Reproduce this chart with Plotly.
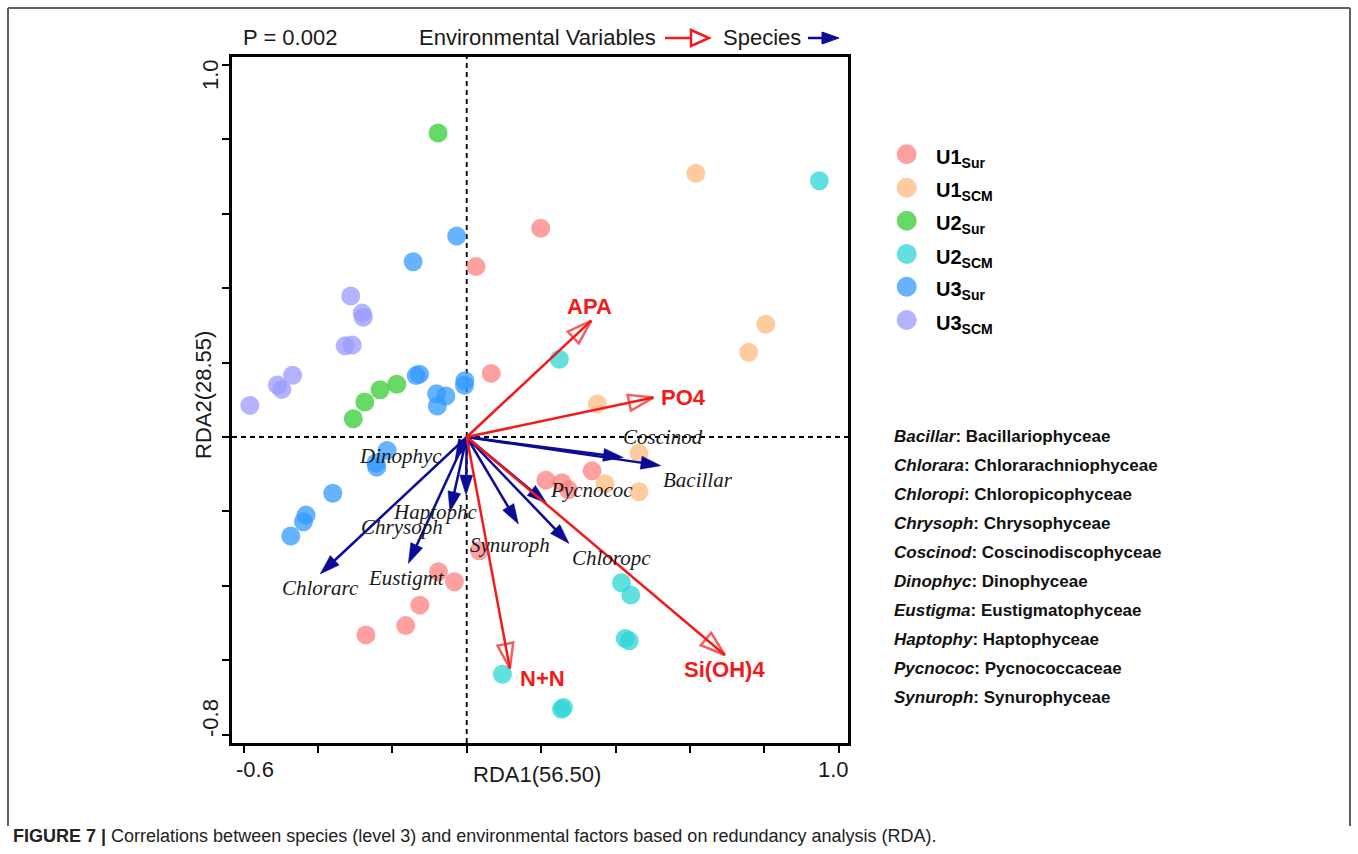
import plotly.graph_objects as go

# ---------------- data ----------------
group_names = ["U1_Sur", "U1_SCM", "U2_Sur", "U2_SCM", "U3_Sur", "U3_SCM"]
legend_main = ["U1", "U1", "U2", "U2", "U3", "U3"]
legend_sub = ["Sur", "SCM", "Sur", "SCM", "Sur", "SCM"]
group_colors = ["#FF8080", "#FFBB80", "#33CC33", "#2ED6D6", "#3399FF", "#9999FF"]

u1_sur_x = [0.199, 0.025, 0.066, 0.213, 0.256, 0.273, 0.337, 0.034, -0.076, -0.033, -0.126, -0.164, -0.271]
u1_sur_y = [0.561, 0.458, 0.171, -0.116, -0.123, -0.142, -0.091, -0.306, -0.362, -0.389, -0.452, -0.507, -0.532]
u1_scm_x = [0.616, 0.804, 0.758, 0.351, 0.463, 0.372, 0.463]
u1_scm_y = [0.709, 0.303, 0.228, 0.089, -0.044, -0.126, -0.147]
u2_sur_x = [-0.077, -0.188, -0.233, -0.274, -0.305]
u2_sur_y = [0.817, 0.142, 0.127, 0.094, 0.049]
u2_scm_x = [0.948, 0.249, 0.416, 0.441, 0.426, 0.437, 0.096, 0.255, 0.260]
u2_scm_y = [0.689, 0.209, -0.392, -0.425, -0.542, -0.548, -0.638, -0.732, -0.727]
u3_sur_x = [-0.027, -0.144, -0.136, -0.127, -0.005, -0.006, -0.081, -0.056, -0.079,
            -0.214, -0.244, -0.242, -0.360, -0.432, -0.439, -0.473]
u3_sur_y = [0.540, 0.471, 0.165, 0.169, 0.151, 0.139, 0.116, 0.110, 0.083,
            -0.036, -0.070, -0.081, -0.151, -0.210, -0.228, -0.266]
u3_scm_x = [-0.312, -0.281, -0.278, -0.327, -0.308, -0.468, -0.509, -0.497, -0.583]
u3_scm_y = [0.379, 0.333, 0.322, 0.245, 0.247, 0.166, 0.140, 0.128, 0.085]

group_x = [u1_sur_x, u1_scm_x, u2_sur_x, u2_scm_x, u3_sur_x, u3_scm_x]
group_y = [u1_sur_y, u1_scm_y, u2_sur_y, u2_scm_y, u3_sur_y, u3_scm_y]

env_names = ["APA", "PO4", "N+N", "Si(OH)4"]
env_x = [0.335, 0.502, 0.116, 0.694]
env_y = [0.313, 0.106, -0.622, -0.586]
env_label_x = [0.329, 0.517, 0.138, 0.692]
env_label_y = [0.352, 0.105, -0.648, -0.626]
env_label_anchor = ["center", "left", "left", "center"]

sp_names = ["Bacillar", "Coscinod", "Pycnococ", "Chloropc", "Synuroph",
            "Haptophc", "Chrysoph", "Eustigmt", "Chlorarc", "Dinophyc"]
sp_x = [0.522, 0.421, 0.215, 0.275, 0.139, -0.002, -0.045, -0.157, -0.394, -0.031]
sp_y = [-0.077, -0.055, -0.178, -0.286, -0.234, -0.156, -0.201, -0.340, -0.368, -0.060]
sp_label_x = [0.622, 0.528, 0.336, 0.390, 0.116, -0.085, -0.175, -0.161, -0.394, -0.179]
sp_label_y = [-0.116, 0.0, -0.142, -0.324, -0.290, -0.201, -0.243, -0.380, -0.407, -0.051]

abbr_names = ["Bacillar", "Chlorara", "Chloropi", "Chrysoph", "Coscinod",
              "Dinophyc", "Eustigma", "Haptophy", "Pycnococ", "Synuroph"]
full_names = ["Bacillariophyceae", "Chlorarachniophyceae", "Chloropicophyceae",
              "Chrysophyceae", "Coscinodiscophyceae", "Dinophyceae",
              "Eustigmatophyceae", "Haptophyceae", "Pycnococcaceae", "Synurophyceae"]

x_ticks = [-0.6, -0.4, -0.2, 0.0, 0.2, 0.4, 0.6, 0.8, 1.0]
y_ticks = [-0.8, -0.6, -0.4, -0.2, 0.0, 0.2, 0.4, 0.6, 0.8, 1.0]
x_range = [-0.631, 1.025]
y_range = [-0.8226, 1.0215]

p_text = "P = 0.002"
x_title = "RDA1(56.50)"
y_title = "RDA2(28.55)"
caption = "<b>FIGURE 7 |</b> Correlations between species (level 3) and environmental factors based on redundancy analysis (RDA)."

# ---------------- layout helpers ----------------
W_FIG, H_FIG = 1358, 854
L, R, T, B = 232, 848, 57, 743
PW, PH = R - L, B - T


def pxx(p):
    return (p - L) / PW


def pxy(p):
    return (B - p) / PH


RED = "#F21A1A"
NAVY = "#0B0B96"
TXT = "#1a1a1a"

fig = go.Figure()

# points
for name, xs, ys, col in zip(group_names, group_x, group_y, group_colors):
    fig.add_trace(go.Scatter(
        x=xs, y=ys, mode="markers", name=name, showlegend=False,
        marker=dict(size=19, color=col, opacity=0.75, line=dict(width=0)),
    ))

# species arrows
for nm, x, y in zip(sp_names, sp_x, sp_y):
    fig.add_trace(go.Scatter(
        x=[0, x], y=[0, y], mode="lines+markers", showlegend=False,
        line=dict(color=NAVY, width=2.5),
        marker=dict(symbol="arrow", size=[0, 21], angleref="previous",
                    color=NAVY, opacity=1, line=dict(width=0.5, color=NAVY)),
    ))

# environmental arrows
for nm, x, y in zip(env_names, env_x, env_y):
    fig.add_trace(go.Scatter(
        x=[0, x], y=[0, y], mode="lines+markers", showlegend=False,
        line=dict(color=RED, width=2.5),
        marker=dict(symbol="arrow-open", size=[0, 26], angleref="previous",
                    color=RED, line=dict(width=2.5, color=RED)),
    ))

ann = []
# species labels
for nm, x, y in zip(sp_names, sp_label_x, sp_label_y):
    ann.append(dict(x=x, y=y, xref="x", yref="y", text=nm, showarrow=False,
                    xanchor="center", yanchor="middle",
                    font=dict(family="Liberation Serif, Times New Roman, serif",
                              size=21, color=TXT, style="italic")))
# env labels
for nm, x, y, a in zip(env_names, env_label_x, env_label_y, env_label_anchor):
    ann.append(dict(x=x, y=y, xref="x", yref="y", text="<b>" + nm + "</b>",
                    showarrow=False, xanchor=a, yanchor="middle",
                    font=dict(family="Liberation Sans, Arial, sans-serif", size=22, color=RED)))

SANS = "Liberation Sans, Arial, sans-serif"
# tick labels
ann.append(dict(x=pxx(255), y=pxy(769), xref="paper", yref="paper", text="-0.6",
                showarrow=False, xanchor="center", yanchor="middle", font=dict(family=SANS, size=22, color=TXT)))
ann.append(dict(x=pxx(833), y=pxy(769), xref="paper", yref="paper", text="1.0",
                showarrow=False, xanchor="center", yanchor="middle", font=dict(family=SANS, size=22, color=TXT)))
ann.append(dict(x=pxx(210), y=pxy(75), xref="paper", yref="paper", text="1.0", textangle=-90,
                showarrow=False, xanchor="center", yanchor="middle", font=dict(family=SANS, size=22, color=TXT)))
ann.append(dict(x=pxx(210), y=pxy(718), xref="paper", yref="paper", text="-0.8", textangle=-90,
                showarrow=False, xanchor="center", yanchor="middle", font=dict(family=SANS, size=22, color=TXT)))
# axis titles
ann.append(dict(x=pxx(537), y=pxy(774), xref="paper", yref="paper", text=x_title,
                showarrow=False, xanchor="center", yanchor="middle", font=dict(family=SANS, size=22, color=TXT)))
ann.append(dict(x=pxx(203), y=pxy(395), xref="paper", yref="paper", text=y_title, textangle=-90,
                showarrow=False, xanchor="center", yanchor="middle", font=dict(family=SANS, size=22, color=TXT)))
# top texts
ann.append(dict(x=pxx(241), y=pxy(38), xref="paper", yref="paper", text=p_text,
                showarrow=False, xanchor="left", yanchor="middle", font=dict(family=SANS, size=22, color=TXT)))
ann.append(dict(x=pxx(658), y=pxy(38), xref="paper", yref="paper", text="Environmental Variables",
                showarrow=False, xanchor="right", yanchor="middle", font=dict(family=SANS, size=22, color=TXT)))
ann.append(dict(x=pxx(721), y=pxy(38), xref="paper", yref="paper", text="Species",
                showarrow=False, xanchor="left", yanchor="middle", font=dict(family=SANS, size=22, color=TXT)))

# group legend
leg_y = [154.3, 187.7, 220.7, 254.0, 286.7, 320.0]
shapes = []
for m, s, col, yy in zip(legend_main, legend_sub, group_colors, leg_y):
    shapes.append(dict(type="circle", xref="paper", yref="paper",
                       xsizemode="pixel", ysizemode="pixel",
                       xanchor=pxx(906.7), yanchor=pxy(yy),
                       x0=-10, x1=10, y0=-10, y1=10,
                       fillcolor=col, opacity=0.75, line=dict(width=0)))
    ann.append(dict(x=pxx(934), y=pxy(yy + 4), xref="paper", yref="paper",
                    text="<b>" + m + "<sub>" + s + "</sub></b>", showarrow=False,
                    xanchor="left", yanchor="middle", font=dict(family=SANS, size=20, color="#000")))

# abbreviation list
for i, (a, f) in enumerate(zip(abbr_names, full_names)):
    yy = 436 + 29.0 * i
    ann.append(dict(x=pxx(892), y=pxy(yy), xref="paper", yref="paper",
                    text="<b><i>" + a + "</i>: " + f + "</b>", showarrow=False,
                    xanchor="left", yanchor="middle", font=dict(family=SANS, size=17, color="#111")))

# caption
ann.append(dict(x=pxx(11), y=pxy(836), xref="paper", yref="paper", text=caption,
                showarrow=False, xanchor="left", yanchor="middle", font=dict(family=SANS, size=18, color="#222")))

# dashed zero lines
shapes.append(dict(type="line", xref="x", yref="paper", x0=0, x1=0, y0=0, y1=1,
                   line=dict(color="black", width=1.8, dash="5px,4px"), layer="below"))
shapes.append(dict(type="line", xref="paper", yref="y", x0=0, x1=1, y0=0, y1=0,
                   line=dict(color="black", width=1.8, dash="5px,4px"), layer="below"))

# top legend arrows
shapes.append(dict(type="line", xref="paper", yref="paper", x0=pxx(665), x1=pxx(692), y0=pxy(38), y1=pxy(38),
                   line=dict(color=RED, width=2.5)))
shapes.append(dict(type="path", xref="paper", yref="paper",
                   path="M %f,%f L %f,%f L %f,%f Z" % (pxx(691), pxy(30), pxx(709), pxy(38), pxx(691), pxy(46)),
                   line=dict(color=RED, width=2.5), fillcolor="white"))
shapes.append(dict(type="line", xref="paper", yref="paper", x0=pxx(808), x1=pxx(826), y0=pxy(38), y1=pxy(38),
                   line=dict(color=NAVY, width=2.5)))
shapes.append(dict(type="path", xref="paper", yref="paper",
                   path="M %f,%f L %f,%f L %f,%f Z" % (pxx(822), pxy(32), pxx(839), pxy(38), pxx(822), pxy(44)),
                   line=dict(color=NAVY, width=1), fillcolor=NAVY))

# outer frame (open bottom)
FR = "#606060"
shapes.append(dict(type="line", xref="paper", yref="paper", x0=pxx(8), x1=pxx(1350), y0=pxy(8), y1=pxy(8),
                   line=dict(color=FR, width=2)))
shapes.append(dict(type="line", xref="paper", yref="paper", x0=pxx(8), x1=pxx(8), y0=pxy(8), y1=pxy(826),
                   line=dict(color=FR, width=2)))
shapes.append(dict(type="line", xref="paper", yref="paper", x0=pxx(1350), x1=pxx(1350), y0=pxy(8), y1=pxy(826),
                   line=dict(color=FR, width=2)))

fig.update_layout(
    width=W_FIG, height=H_FIG,
    margin=dict(l=L, r=W_FIG - R, t=T, b=H_FIG - B, pad=0),
    paper_bgcolor="white", plot_bgcolor="white",
    showlegend=False,
    xaxis=dict(range=x_range, tickvals=x_ticks, showticklabels=False, ticks="outside",
               ticklen=7, tickwidth=1.5, tickcolor="black", showgrid=False, zeroline=False,
               showline=True, linecolor="black", linewidth=3, mirror=True),
    yaxis=dict(range=y_range, tickvals=y_ticks, showticklabels=False, ticks="outside",
               ticklen=7, tickwidth=1.5, tickcolor="black", showgrid=False, zeroline=False,
               showline=True, linecolor="black", linewidth=3, mirror=True),
    annotations=ann, shapes=shapes,
)

fig.write_html("out.html")
